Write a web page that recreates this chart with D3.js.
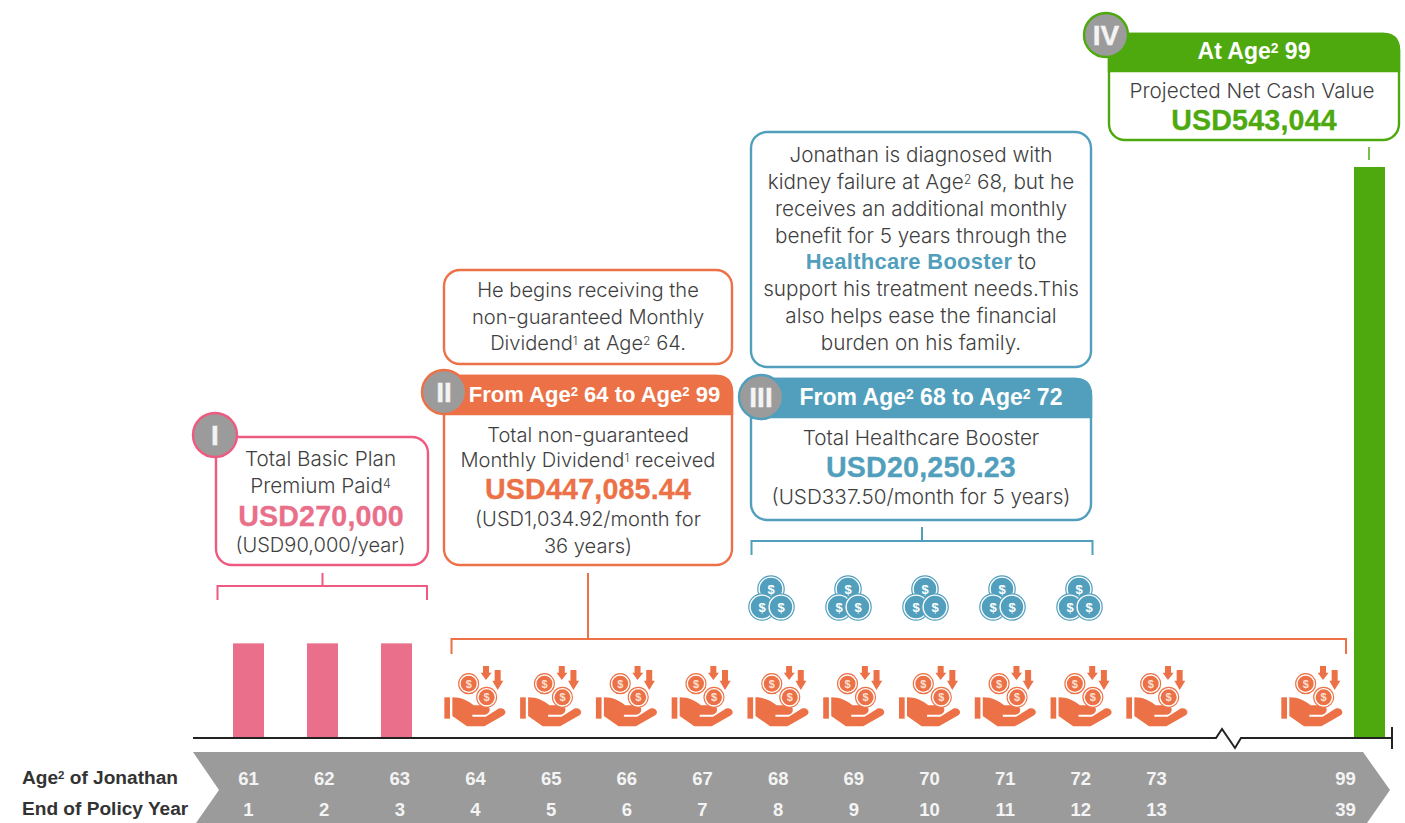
<!DOCTYPE html>
<html>
<head>
<meta charset="utf-8">
<script src="https://cdn.jsdelivr.net/npm/d3@7"></script>
<style>
  html, body { margin: 0; padding: 0; background: #fff; }
  svg { display: block; }
  text { font-family: "Liberation Sans", Arial, sans-serif; }
  text.light { font-family: Inter, "Liberation Sans", sans-serif; font-weight: 300; }
</style>
</head>
<body>
<div id="pane"></div>
<script>
// values
const ages = [61, 62, 63, 64, 65, 66, 67, 68, 69, 70, 71, 72, 73, 99];
const policyYears = [1, 2, 3, 4, 5, 6, 7, 8, 9, 10, 11, 12, 13, 39];
const premiumAges = [61, 62, 63];
const premiumPaid = [90000, 90000, 90000];
const dividendAges = [64, 65, 66, 67, 68, 69, 70, 71, 72, 73, 99];
const boosterAges = [68, 69, 70, 71, 72];
const netCashAge = 99;
const netCashValue = 543044;

// ^n = superscript, *...* = highlighted bold
const rowTitles = ["Age^2 of Jonathan", "End of Policy Year"];
const box1Text = ["Total Basic Plan", "Premium Paid^4", "USD270,000", "(USD90,000/year)"];
const note2Text = ["He begins receiving the", "non-guaranteed Monthly", "Dividend^1 at Age^2 64."];
const box2Head = "From Age^2 64 to Age^2 99";
const box2Text = ["Total non-guaranteed", "Monthly Dividend^1 received", "USD447,085.44", "(USD1,034.92/month for", "36 years)"];
const note3Text = ["Jonathan is diagnosed with", "kidney failure at Age^2 68, but he", "receives an additional monthly",
  "benefit for 5 years through the", "*Healthcare Booster* to", "support his treatment needs.This",
  "also helps ease the financial", "burden on his family."];
const box3Head = "From Age^2 68 to Age^2 72";
const box3Text = ["Total Healthcare Booster", "USD20,250.23", "(USD337.50/month for 5 years)"];
const box4Head = "At Age^2 99";
const box4Text = ["Projected Net Cash Value", "USD543,044"];

const pink = "#e96f8a", pinkLine = "#ee5a80", orange = "#ec7146", blue = "#519fbd", green = "#4ea90f";
const grey = "#9b9b9b", ink = "#3f3f3f";

const width = 1405, height = 823, baseY = 738;

// the axis is broken after 73, so the age scale has two pieces
const x = d3.scaleLinear().domain([61, 73, 99]).range([248, 1156, 1345]);
const premiumX = d3.scaleLinear().domain([61, 63]).range([248.5, 396.5]);
const dividendX = d3.scaleLinear().domain([64, 73, 99]).range([475, 1157, 1312]);
const boosterX = d3.scaleLinear().domain([68, 72]).range([771, 1079]);
const y = d3.scaleLinear().domain([0, netCashValue]).range([baseY, 167]);

const svg = d3.select("#pane").append("svg").attr("width", width).attr("height", height);
const defs = svg.append("defs");

// write one line of text with its superscripts and highlights
function addRich(sel, str, hi) {
  let back = false;
  str.split(/(\*[^*]+\*|\^\d)/).filter(s => s).forEach(part => {
    let ts;
    if (part[0] === "^") {
      ts = sel.append("tspan").attr("dy", "-0.42em").attr("font-size", "0.6em").text(part.slice(1));
      back = true;
      return;
    } else if (part[0] === "*") {
      ts = sel.append("tspan").style("font-family", "Liberation Sans").style("font-weight", "bold")
        .attr("font-size", "1.06em").attr("letter-spacing", 0.3).attr("fill", hi).text(part.slice(1, -1));
    } else {
      ts = sel.append("tspan").text(part);
    }
    if (back) ts.attr("dy", "0.252em");
    back = false;
  });
}

function line(g, str, cx, by, opt) {
  const t = g.append("text")
    .attr("class", opt.light ? "light" : null)
    .attr("x", cx).attr("y", by)
    .attr("text-anchor", opt.anchor || "middle")
    .attr("font-size", opt.size)
    .attr("font-weight", opt.bold ? "bold" : "normal")
    .attr("fill", opt.fill || ink);
  if (opt.spacing) t.attr("letter-spacing", opt.spacing);
  if (opt.bold && opt.thick) t.attr("stroke", opt.fill).attr("stroke-width", opt.thick);
  addRich(t, str, opt.hi);
  return t;
}

function roundBox(g, b, color) {
  g.append("rect").attr("x", b.x).attr("y", b.y).attr("width", b.w).attr("height", b.h)
    .attr("rx", 16).attr("fill", "#fff").attr("stroke", color).attr("stroke-width", 2.4);
}

function header(g, b, hh, color, label, cx, size) {
  const r = 16;
  g.append("path")
    .attr("d", `M${b.x},${b.y + hh}V${b.y + r}Q${b.x},${b.y} ${b.x + r},${b.y}H${b.x + b.w - r}Q${b.x + b.w},${b.y} ${b.x + b.w},${b.y + r}V${b.y + hh}Z`)
    .attr("fill", color).attr("stroke", color).attr("stroke-width", 2.4);
  line(g, label, cx, b.y + hh - 12, { size: size, bold: true, fill: "#fff" });
}

function badge(g, cx, cy, color, label) {
  g.append("circle").attr("cx", cx).attr("cy", cy).attr("r", 22)
    .attr("fill", grey).attr("stroke", color).attr("stroke-width", 2.4);
  line(g, label, cx, cy + 10, { size: 28, bold: true, fill: "#f4f4f4", thick: 0.4 });
}

function bracket(g, x0, x1, yb, drop, stemX, stemTop, color) {
  g.append("path")
    .attr("d", `M${x0},${yb + drop}V${yb}H${x1}V${yb + drop}M${stemX},${stemTop}V${yb}`)
    .attr("fill", "none").attr("stroke", color).attr("stroke-width", 2);
}

// icons, drawn on a 3x grid and scaled down
const hand = defs.append("g").attr("id", "hand").attr("transform", "scale(0.3333)");
hand.append("rect").attr("x", -92).attr("y", -122).attr("width", 17).attr("height", 64).attr("fill", orange);
hand.append("path").attr("fill", orange)
  .attr("d", "M-68,-122 C-40,-122 -22,-112 -4,-98 L30,-98 C48,-98 50,-72 30,-70 L-8,-70 L-8,-64 L32,-64 L70,-88 C88,-94 98,-76 86,-68 L28,-35 L-24,-35 L-68,-66 Z");
[[-19, -163], [35, -122]].forEach(c => {
  hand.append("circle").attr("cx", c[0]).attr("cy", c[1]).attr("r", 30).attr("fill", "#fff").attr("stroke", orange).attr("stroke-width", 3.5);
  hand.append("circle").attr("cx", c[0]).attr("cy", c[1]).attr("r", 24).attr("fill", orange);
  hand.append("text").attr("x", c[0]).attr("y", c[1] + 12).attr("text-anchor", "middle")
    .attr("font-size", 33).attr("font-weight", "bold").attr("fill", "#fbe0d5").text("$");
});
hand.append("path").attr("fill", orange)
  .attr("d", "M24,-216 H42 V-196 H50 L33,-174 L17,-196 H24 Z M59,-204 H77 V-172 H85 L68,-144 L52,-172 H59 Z");

const coins = defs.append("g").attr("id", "coins");
[[0, -9], [-9, 9], [10, 9]].forEach(c => {
  coins.append("circle").attr("cx", c[0]).attr("cy", c[1]).attr("r", 13.2).attr("fill", "#fff").attr("stroke", blue).attr("stroke-width", 1.2);
  coins.append("circle").attr("cx", c[0]).attr("cy", c[1]).attr("r", 11.2).attr("fill", blue);
  coins.append("text").attr("x", c[0]).attr("y", c[1] + 4.5).attr("text-anchor", "middle")
    .attr("font-size", 13).attr("font-weight", "bold").attr("fill", "#fff").text("$");
});

// bottom ribbon
svg.append("path")
  .attr("d", "M193,752H1363L1390,790L1367,823H196L219,790Z")
  .attr("fill", grey);
rowTitles.forEach((d, i) => {
  line(svg, d, 22, [784, 815][i], { size: 19.1, bold: true, fill: "#333", anchor: "start" });
});

// age and year rows come from axes on the age scale
const ageAxis = d3.axisBottom(x).tickValues(ages).tickSize(0).tickFormat(d3.format("d"));
const yearAxis = d3.axisBottom(x).tickValues(ages).tickSize(0).tickFormat(d => policyYears[ages.indexOf(d)]);
[[ageAxis, 763], [yearAxis, 794]].forEach(a => {
  const g = svg.append("g").attr("transform", `translate(0,${a[1]})`).call(a[0]);
  g.select(".domain").remove();
  g.selectAll("text").attr("fill", "#f4f4f4").attr("font-size", 18.5).attr("font-weight", "bold")
    .attr("font-family", "Liberation Sans").attr("dy", "1em");
});

// bars
const barW = 31;
svg.selectAll("rect.premium").data(premiumAges).join("rect")
  .attr("class", "premium")
  .attr("x", d => premiumX(d) - barW / 2).attr("width", barW)
  .attr("y", (d, i) => y(premiumPaid[i])).attr("height", (d, i) => baseY - y(premiumPaid[i]))
  .attr("fill", pink);
svg.append("rect")
  .attr("x", x(netCashAge) + 9).attr("width", barW)
  .attr("y", y(netCashValue)).attr("height", baseY - y(netCashValue))
  .attr("fill", green);

// icons
svg.selectAll("use.hand").data(dividendAges).join("use")
  .attr("class", "hand").attr("href", "#hand")
  .attr("transform", d => `translate(${dividendX(d)},${baseY})`);
svg.selectAll("use.coins").data(boosterAges).join("use")
  .attr("class", "coins").attr("href", "#coins")
  .attr("transform", d => `translate(${boosterX(d)},598)`);

// baseline with the break
svg.append("path")
  .attr("d", `M193,${baseY}H1216L1222,729L1235,748L1241,${baseY}H1392M1392,727V749`)
  .attr("fill", "none").attr("stroke", "#222").attr("stroke-width", 2);

const body = { size: 20.7, light: true };
const body2 = { size: 20.1, light: true };
const value = color => ({ size: 28.6, bold: true, fill: color, thick: 0.3, spacing: 0.2 });

// I
const g1 = svg.append("g");
bracket(g1, 217.5, 427, 586, 14, 322.5, 573, pinkLine);
roundBox(g1, { x: 216, y: 437, w: 212, h: 128 }, pinkLine);
badge(g1, 215, 435, pinkLine, "I");
line(g1, box1Text[0], 320.5, 466, body);
line(g1, box1Text[1], 320.5, 493, body);
line(g1, box1Text[2], 321, 526, value(pink));
line(g1, box1Text[3], 320.5, 552, body2);

// II
const g2 = svg.append("g");
bracket(g2, 451.5, 1346, 639, 15, 588, 573, orange);
roundBox(g2, { x: 444, y: 270, w: 288, h: 94 }, orange);
note2Text.forEach((d, i) => line(g2, d, 588, 297 + i * 26.5, body2));
const b2 = { x: 444, y: 376, w: 288, h: 189 };
roundBox(g2, b2, orange);
header(g2, b2, 38, orange, box2Head, 594.5, 22);
badge(g2, 444, 392, orange, "II");
line(g2, box2Text[0], 588, 442, body2);
line(g2, box2Text[1], 588, 467, body2);
line(g2, box2Text[2], 588, 499, value(orange));
line(g2, box2Text[3], 588, 526, body2);
line(g2, box2Text[4], 588, 553, body2);

// III
const g3 = svg.append("g");
bracket(g3, 751.5, 1092.5, 541, 14, 922, 527, blue);
roundBox(g3, { x: 751, y: 132, w: 340, h: 235 }, blue);
note3Text.forEach((d, i) => line(g3, d, 921, 162 + i * 26.85, Object.assign({ hi: blue }, body)));
const b3 = { x: 751, y: 379, w: 340, h: 141 };
roundBox(g3, b3, blue);
header(g3, b3, 38, blue, box3Head, 931, 23);
badge(g3, 761, 397, blue, "III");
line(g3, box3Text[0], 921, 445, body);
line(g3, box3Text[1], 921, 477, value(blue));
line(g3, box3Text[2], 921, 504, body);

// IV
const g4 = svg.append("g");
g4.append("path").attr("d", "M1369,147V160").attr("stroke", green).attr("stroke-width", 1.5);
const b4 = { x: 1109, y: 34, w: 290, h: 106 };
roundBox(g4, b4, green);
header(g4, b4, 37, green, box4Head, 1254, 23);
badge(g4, 1106, 35, green, "IV");
line(g4, box4Text[0], 1252, 98, body);
line(g4, box4Text[1], 1254, 130, value(green));
</script>
</body>
</html>
